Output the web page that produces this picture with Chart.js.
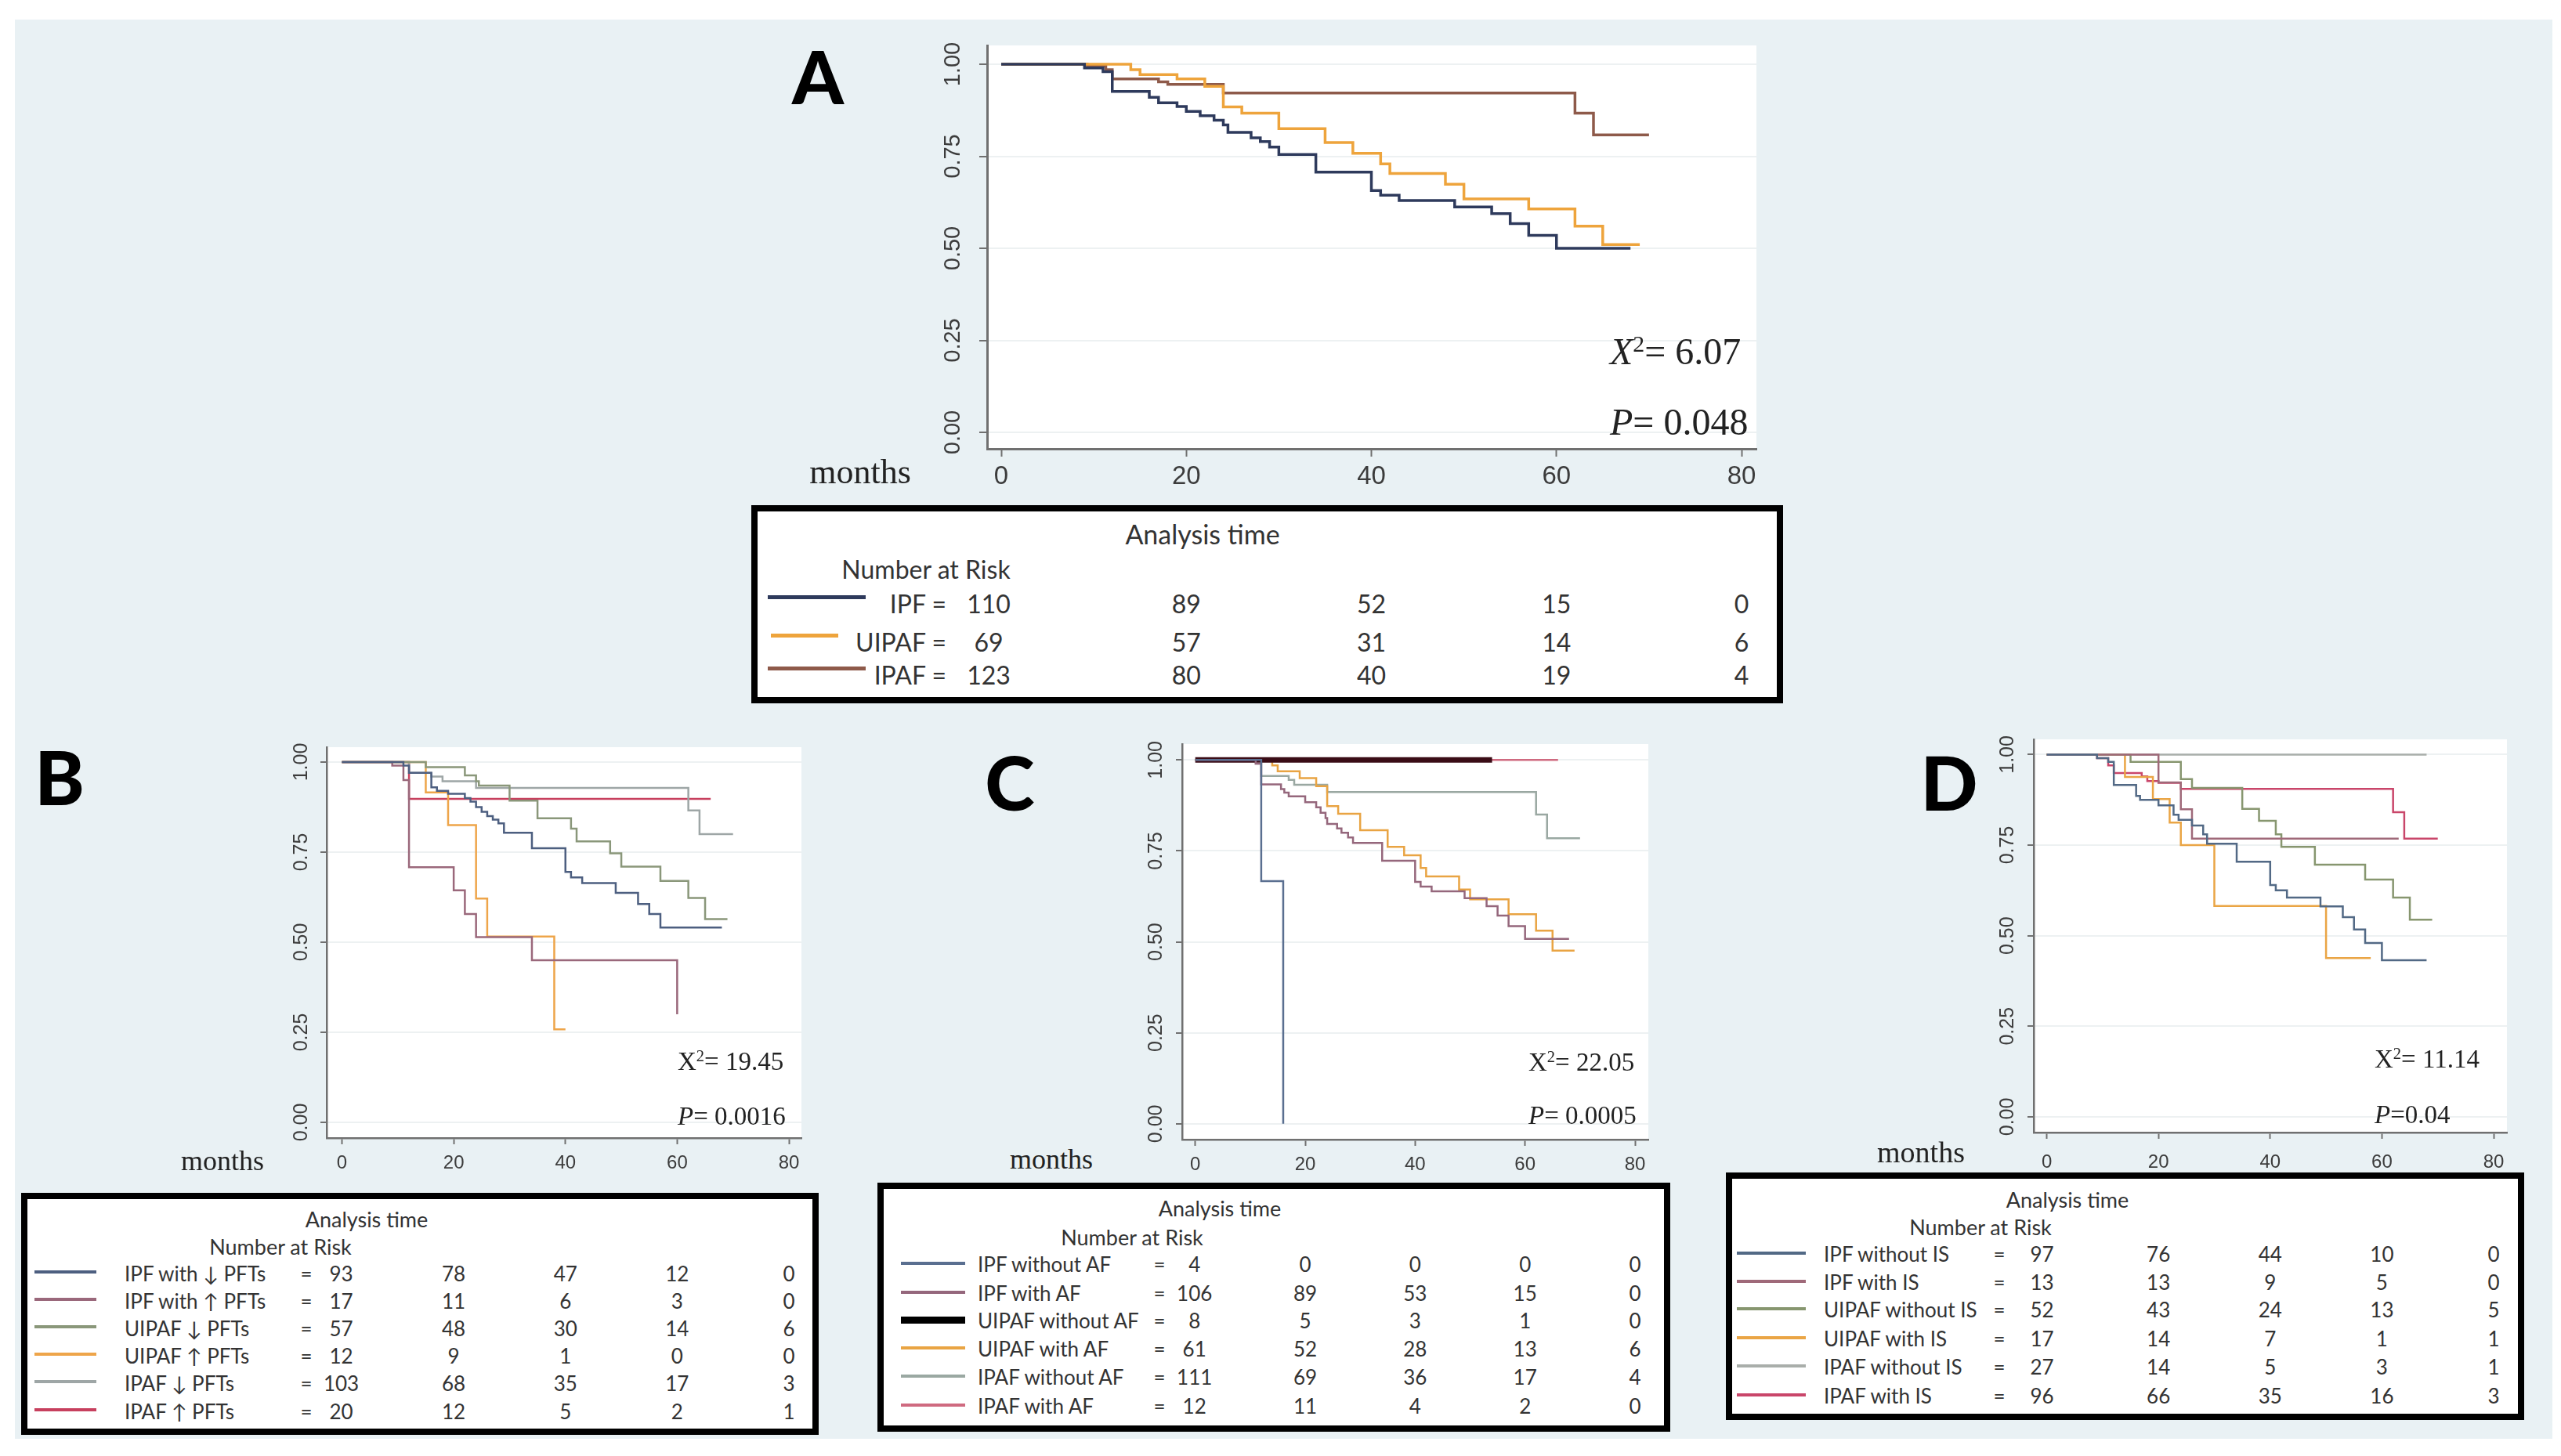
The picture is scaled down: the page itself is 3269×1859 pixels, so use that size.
<!DOCTYPE html>
<html>
<head>
<meta charset="utf-8">
<script src="https://cdn.jsdelivr.net/npm/chart.js@4.4.1/dist/chart.umd.min.js"></script>
<style>
  html, body { margin: 0; padding: 0; background: #fff; }
  body { width: 3269px; height: 1859px; position: relative; overflow: hidden; }
  #bg { position: absolute; left: 19px; top: 25px; width: 3239px; height: 1812px; background: #e9f1f4; }
  canvas { position: absolute; }
  .t { position: absolute; line-height: 1; white-space: nowrap; }
  .letter { font-family: Lato, sans-serif; font-weight: 900; color: #000; }
  .months { font-family: 'Liberation Serif', 'Times New Roman', serif; color: #222; }
  .stat { font-family: 'Liberation Serif', 'Times New Roman', serif; color: #222; }
  .stat sup { font-size: 0.62em; vertical-align: 0.55em; line-height: 0; }
  .rt { font-family: Lato, sans-serif; color: #333; }
  .risk { position: absolute; box-sizing: border-box; border: 8px solid #000; background: #fff; }
  .leg { position: absolute; }
</style>
</head>
<body>
<div id="bg"></div>
<script>
// ---------- shared axes ----------
const xTicks = [0, 20, 40, 60, 80];
const yTicks = [0, 0.25, 0.5, 0.75, 1];
const yTickLabels = ['0.00', '0.25', '0.50', '0.75', '1.00'];
const riskTimes = [0, 20, 40, 60, 80];

// ---------- panel A ----------
const namesA = ['IPF', 'UIPAF', 'IPAF'];
const ipfA = [[0,1],[9,0.99],[11,0.98],[12,0.926],[16,0.91],[17,0.895],[19,0.885],[20,0.872],[21.5,0.86],[23,0.848],[24,0.835],[24.5,0.815],[27,0.80],[28,0.79],[29,0.775],[30,0.755],[34,0.707],[40,0.657],[41,0.644],[43,0.63],[49,0.612],[53,0.594],[55,0.567],[57,0.535],[60,0.50],[68,0.50]];
const uipafA = [[0,1],[14,0.985],[15,0.972],[19,0.96],[22,0.94],[24,0.884],[26,0.867],[30,0.825],[35,0.787],[38,0.758],[41,0.729],[42,0.703],[48,0.674],[50,0.634],[57,0.607],[62,0.56],[65,0.51],[69,0.51]];
const ipafA = [[0,1],[9.3,0.995],[11.3,0.985],[12,0.96],[17,0.952],[18,0.945],[24,0.922],[62,0.867],[64,0.808],[70,0.808]];
const riskA = [[110,89,52,15,0],[69,57,31,14,6],[123,80,40,19,4]];
const statsA = ['6.07', '0.048'];

// ---------- panel B ----------
const namesB = ['IPF with \u2193 PFTs', 'IPF with \u2191 PFTs', 'UIPAF \u2193 PFTs', 'UIPAF \u2191 PFTs', 'IPAF \u2193 PFTs', 'IPAF \u2191 PFTs'];
const ipfDownB = [[0,1],[11,0.99],[12,0.97],[16,0.93],[17,0.92],[19,0.912],[22,0.90],[23,0.89],[24,0.875],[25,0.862],[26,0.85],[27,0.84],[28,0.83],[29,0.804],[34,0.761],[40,0.695],[41,0.68],[43,0.664],[49,0.637],[53,0.606],[55,0.578],[57,0.541],[68,0.541]];
const ipfUpB = [[0,1],[9,0.99],[11,0.95],[12,0.708],[20,0.644],[22,0.578],[24,0.514],[34,0.45],[60,0.30]];
const uipafDownB = [[0,1],[15,0.986],[22,0.963],[24,0.947],[24.5,0.935],[30,0.893],[35,0.844],[41,0.815],[42,0.78],[48,0.747],[50,0.71],[57,0.67],[62,0.623],[65,0.564],[69,0.564]];
const uipafUpB = [[0,1],[15,0.916],[19,0.825],[24,0.621],[26,0.516],[38,0.258],[40,0.258]];
const ipafDownB = [[0,1],[12,0.97],[16,0.96],[18,0.947],[24,0.928],[62,0.866],[64,0.80],[70,0.80]];
const ipafUpB = [[0,1],[12,0.898],[66,0.898]];
const riskB = [[93,78,47,12,0],[17,11,6,3,0],[57,48,30,14,6],[12,9,1,0,0],[103,68,35,17,3],[20,12,5,2,1]];
const statsB = ['19.45', '0.0016'];

// ---------- panel C ----------
const namesC = ['IPF without AF', 'IPF with AF', 'UIPAF without AF', 'UIPAF with AF', 'IPAF without AF', 'IPAF with AF'];
const ipfNoAfC = [[0,1],[12,0.667],[16,0]];
const ipfAfC = [[0,1],[11,0.99],[12,0.933],[15.6,0.92],[16.2,0.91],[17,0.90],[20,0.884],[22,0.87],[22.8,0.855],[23.7,0.84],[24,0.824],[25.8,0.812],[26.6,0.80],[27.8,0.787],[28.7,0.772],[34,0.723],[40,0.665],[41,0.652],[43,0.639],[49,0.62],[53,0.598],[55,0.572],[57,0.543],[60,0.508],[68,0.508]];
const uipafNoAfC = [[0,1],[54,1]];
const uipafAfC = [[0,1],[14,0.985],[15,0.969],[19,0.95],[22,0.928],[24,0.873],[26,0.852],[30,0.807],[35,0.761],[38,0.738],[41,0.703],[42,0.68],[48,0.644],[50,0.617],[57,0.576],[62,0.531],[65,0.476],[69,0.476]];
const ipafNoAfC = [[0,1],[11,0.99],[12,0.956],[17,0.945],[18,0.932],[24,0.912],[62,0.85],[64,0.785],[70,0.785]];
const ipafAfC = [[0,1],[66,1]];
const riskC = [[4,0,0,0,0],[106,89,53,15,0],[8,5,3,1,0],[61,52,28,13,6],[111,69,36,17,4],[12,11,4,2,0]];
const statsC = ['22.05', '0.0005'];

// ---------- panel D ----------
const namesD = ['IPF without IS', 'IPF with IS', 'UIPAF without IS', 'UIPAF with IS', 'IPAF without IS', 'IPAF with IS'];
const ipfNoIsD = [[0,1],[9,0.99],[11,0.98],[12,0.916],[16,0.886],[16.7,0.875],[20,0.86],[22.7,0.834],[23.6,0.82],[26,0.804],[28,0.78],[28.7,0.754],[34,0.704],[40,0.64],[41,0.625],[43,0.605],[49,0.581],[53,0.551],[55,0.517],[57,0.48],[60,0.432],[68,0.432]];
const ipfIsD = [[0,1],[20,0.923],[24,0.849],[26,0.768],[63,0.768]];
const uipafNoIsD = [[0,1],[15,0.98],[24,0.932],[26,0.908],[35,0.85],[38,0.817],[41,0.78],[42,0.745],[48,0.696],[57,0.655],[62,0.605],[65,0.544],[69,0.544]];
const uipafIsD = [[0,1],[14,0.938],[19,0.877],[22,0.812],[24,0.75],[30,0.582],[50,0.438],[58,0.438]];
const ipafNoIsD = [[0,1],[68,1]];
const ipafIsD = [[0,1],[9,0.99],[11,0.97],[12,0.949],[17,0.94],[18,0.927],[20,0.922],[24,0.905],[62,0.841],[64,0.768],[70,0.768]];
const riskD = [[97,76,44,10,0],[13,13,9,5,0],[52,43,24,13,5],[17,14,7,1,1],[27,14,5,3,1],[96,66,35,16,3]];
const statsD = ['11.14', '0.04'];

// ---------- layout / style ----------
const axisColor = '#707070';
const panels = [
  { id: 'A', series: [ipfA, uipafA, ipafA], names: namesA, risk: riskA, stats: statsA,
    colors: ['#2e3a5c', '#eea43c', '#8e5a4a'], widths: [3.5, 3.5, 3.5],
    frame: { L: 1260, T: 58, R: 2242, B: 573 }, px0: 1278, px80: 2223, py1: 82, py0: 552,
    axisW: 3, tick: 10, yFont: 29, yOff: 43, xFont: 33, xOff: 36,
    letter: { x: 1044, y: 100, fs: 94 }, months: { x: 1098, y: 603, fs: 44 },
    stat: { x: 2055, y1: 449, y2: 539, fs: 48, italicX: true, gap: ' ' },
    box: { l: 959, t: 645, r: 2276, b: 898 }, head: { x: 1535, y: 683, fs: 34 }, nar: { x: 1182, y: 728, fs: 32 },
    rows: [772, 821, 863], rowFs: 32, legX: [[980, 1105], [984, 1070], [980, 1105]], legDy: -10, legW: [5, 5, 5],
    labelRight: 1208, firstOff: -16 },
  { id: 'B', series: [ipfDownB, ipfUpB, uipafDownB, uipafUpB, ipafDownB, ipafUpB], names: namesB, risk: riskB, stats: statsB,
    colors: ['#4d5f80', '#9a687b', '#8a977a', '#eea54a', '#9ea6a6', '#c7405e'], widths: [2.5, 2.5, 2.5, 2.5, 2.5, 2.5],
    frame: { L: 417, T: 954, R: 1023, B: 1453 }, px0: 436.5, px80: 1007, py1: 973, py0: 1433,
    axisW: 2.5, tick: 8, yFont: 25, yOff: 32, xFont: 24, xOff: 32,
    letter: { x: 76, y: 994, fs: 96 }, months: { x: 284, y: 1482, fs: 36 },
    stat: { x: 865, y1: 1355, y2: 1425, fs: 33, italicX: false, gap: ' ' },
    box: { l: 27, t: 1523, r: 1045, b: 1832 }, head: { x: 468, y: 1557, fs: 27 }, nar: { x: 358, y: 1592, fs: 27 },
    rows: [1627, 1662, 1697, 1732, 1767, 1803], rowFs: 26, legX: [[44, 123]], legDy: -3, legW: [4, 4, 4, 4, 4, 4],
    labelLeft: 159, eqX: 391, firstOff: -1 },
  { id: 'C', series: [ipfNoAfC, ipfAfC, uipafNoAfC, uipafAfC, ipafNoAfC, ipafAfC], names: namesC, risk: riskC, stats: statsC,
    colors: ['#5a6f90', '#95677c', '#3a0c16', '#e9a443', '#9aa8a2', '#cf6a80'], widths: [2.5, 2.5, 7, 2.5, 2.5, 2.5],
    frame: { L: 1509, T: 950, R: 2104, B: 1455 }, px0: 1525.7, px80: 2087, py1: 970.3, py0: 1434.8,
    axisW: 2.5, tick: 8, yFont: 25, yOff: 33, xFont: 24, xOff: 32,
    letter: { x: 1289, y: 1001, fs: 96 }, months: { x: 1342, y: 1480, fs: 36 },
    stat: { x: 1951, y1: 1356, y2: 1424, fs: 33, italicX: false, gap: ' ' },
    box: { l: 1120, t: 1510, r: 2132, b: 1828 }, head: { x: 1557, y: 1543, fs: 27 }, nar: { x: 1445, y: 1580, fs: 27 },
    rows: [1615, 1652, 1687, 1723, 1759, 1796], rowFs: 26, legX: [[1150, 1232]], legDy: -2, legW: [4, 4, 9, 4, 4, 4],
    labelLeft: 1248, eqX: 1480, firstOff: -1 },
  { id: 'D', series: [ipfNoIsD, ipfIsD, uipafNoIsD, uipafIsD, ipafNoIsD, ipafIsD], names: namesD, risk: riskD, stats: statsD,
    colors: ['#526985', '#9f6979', '#87966f', '#eaa545', '#a9aeaa', '#c9466a'], widths: [2.5, 2.5, 2.5, 2.5, 2.5, 2.5],
    frame: { L: 2596, T: 944, R: 3200, B: 1446 }, px0: 2612.6, px80: 3183, py1: 963.4, py0: 1425.9,
    axisW: 2.5, tick: 8, yFont: 25, yOff: 33, xFont: 24, xOff: 38,
    letter: { x: 2488, y: 1001, fs: 96 }, months: { x: 2452, y: 1471, fs: 38 },
    stat: { x: 3031, y1: 1352, y2: 1423, fs: 33, italicX: false, gap: '' },
    box: { l: 2203, t: 1497, r: 3222, b: 1813 }, head: { x: 2639, y: 1532, fs: 27 }, nar: { x: 2528, y: 1567, fs: 27 },
    rows: [1602, 1638, 1673, 1710, 1746, 1783], rowFs: 26, legX: [[2217, 2305]], legDy: -2, legW: [4, 4, 4, 4, 4, 4],
    labelLeft: 2328, eqX: 2552, firstOff: -6 }
];

function addText(html, x, cy, fs, cls, align, k) {
  const d = document.createElement('div');
  d.className = 't ' + cls;
  d.style.fontSize = fs + 'px';
  d.innerHTML = html;
  d.style.top = (cy - fs * (k || 0.52)) + 'px';
  if (align === 'center') { d.style.left = x + 'px'; d.style.transform = 'translateX(-50%)'; }
  else if (align === 'right') { d.style.right = (3269 - x) + 'px'; }
  else d.style.left = x + 'px';
  document.body.appendChild(d);
  return d;
}

function kmPlugin(p) {
  return {
    id: 'km' + p.id,
    beforeDraw(chart) {
      const a = chart.chartArea, ctx = chart.ctx;
      ctx.save();
      ctx.fillStyle = '#fff';
      ctx.fillRect(a.left, a.top, a.right - a.left, a.bottom - a.top);
      ctx.restore();
    },
    afterDraw(chart) {
      const ctx = chart.ctx, a = chart.chartArea;
      const xs = chart.scales.x, ys = chart.scales.y;
      ctx.save();
      ctx.fillStyle = '#3c3c3c';
      ctx.textAlign = 'center';
      ctx.textBaseline = 'middle';
      ctx.font = p.yFont + "px 'Liberation Sans', Arial, sans-serif";
      yTicks.forEach((v, i) => {
        ctx.save();
        ctx.translate(a.left - p.yOff, ys.getPixelForValue(v));
        ctx.rotate(-Math.PI / 2);
        ctx.fillText(yTickLabels[i], 0, 0);
        ctx.restore();
      });
      ctx.font = p.xFont + "px 'Liberation Sans', Arial, sans-serif";
      xTicks.forEach(v => ctx.fillText(String(v), xs.getPixelForValue(v), a.bottom + p.xOff));
      ctx.restore();
    }
  };
}

function makePanel(p) {
  const ML = 100, MB = 80, MT = 6, MR = 6;
  const f = p.frame;
  const w = f.R - f.L + ML + MR, h = f.B - f.T + MT + MB;
  const cv = document.createElement('canvas');
  cv.width = w; cv.height = h;
  cv.style.left = (f.L - ML) + 'px';
  cv.style.top = (f.T - MT) + 'px';
  cv.style.width = w + 'px';
  cv.style.height = h + 'px';
  document.body.appendChild(cv);

  const kx = 80 / (p.px80 - p.px0), ky = 1 / (p.py0 - p.py1);
  const xmin = -(p.px0 - f.L) * kx, xmax = 80 + (f.R - p.px80) * kx;
  const ymax = 1 + (p.py1 - f.T) * ky, ymin = -(f.B - p.py0) * ky;

  const chart = new Chart(cv, {
    type: 'line',
    data: {
      datasets: p.series.map((s, i) => ({
        data: s.map(d => ({ x: d[0], y: d[1] })),
        borderColor: p.colors[i],
        borderWidth: p.widths[i],
        stepped: 'before',
        pointRadius: 0,
        fill: false,
        borderCapStyle: 'butt',
        borderJoinStyle: 'miter'
      }))
    },
    options: {
      responsive: false,
      animation: false,
      devicePixelRatio: 1,
      layout: { padding: { left: 0, top: MT, right: MR, bottom: 0 } },
      plugins: { legend: { display: false }, tooltip: { enabled: false } },
      scales: {
        x: {
          type: 'linear', min: xmin, max: xmax, bounds: 'data',
          afterBuildTicks: s => { s.ticks = xTicks.map(v => ({ value: v })); },
          afterFit: s => { s.height = MB; },
          ticks: { display: false },
          grid: { drawOnChartArea: false, tickColor: axisColor, tickLength: p.tick, tickWidth: 2 },
          border: { display: true, color: axisColor, width: p.axisW }
        },
        y: {
          type: 'linear', min: ymin, max: ymax, bounds: 'data',
          afterBuildTicks: s => { s.ticks = yTicks.map(v => ({ value: v })); },
          afterFit: s => { s.width = ML; },
          ticks: { display: false },
          grid: { color: '#edf1f2', lineWidth: 2, tickColor: axisColor, tickLength: p.tick, tickWidth: 2 },
          border: { display: true, color: axisColor, width: p.axisW }
        }
      }
    },
    plugins: [kmPlugin(p)]
  });

  // panel texts
  addText(p.id, p.letter.x, p.letter.y, p.letter.fs, 'letter', 'center', 0.53);
  addText('months', p.months.x, p.months.y, p.months.fs, 'months', 'center', 0.5);
  const xChar = p.stat.italicX ? '<i>X</i>' : 'X';
  addText(xChar + '<sup>2</sup>= ' + p.stats[0], p.stat.x, p.stat.y1, p.stat.fs, 'stat', 'left', 0.5);
  addText('<i>P</i>=' + p.stat.gap + p.stats[1], p.stat.x, p.stat.y2, p.stat.fs, 'stat', 'left', 0.5);

  // number-at-risk table
  const b = p.box;
  const box = document.createElement('div');
  box.className = 'risk';
  box.style.left = b.l + 'px'; box.style.top = b.t + 'px';
  box.style.width = (b.r - b.l) + 'px'; box.style.height = (b.b - b.t) + 'px';
  document.body.appendChild(box);
  addText('Analysis time', p.head.x, p.head.y, p.head.fs, 'rt', 'center');
  addText('Number at Risk', p.nar.x, p.nar.y, p.nar.fs, 'rt', 'center');

  const offX = f.L - ML;
  p.risk.forEach((row, r) => {
    const cy = p.rows[r];
    const lx = p.legX[r] || p.legX[0];
    const leg = document.createElement('div');
    leg.className = 'leg';
    const lw = p.legW[r];
    leg.style.left = lx[0] + 'px';
    leg.style.width = (lx[1] - lx[0]) + 'px';
    leg.style.top = (cy + p.legDy - lw / 2) + 'px';
    leg.style.height = lw + 'px';
    leg.style.background = p.colors[r] === '#3a0c16' ? '#000' : p.colors[r];
    document.body.appendChild(leg);

    if (p.labelRight) {
      addText(p.names[r] + ' =', p.labelRight, cy, p.rowFs, 'rt', 'right');
    } else {
      addText(p.names[r], p.labelLeft, cy, p.rowFs, 'rt', 'left');
      addText('=', p.eqX, cy, p.rowFs, 'rt', 'center');
    }
    row.forEach((n, c) => {
      const px = offX + chart.scales.x.getPixelForValue(riskTimes[c]) + (c === 0 ? p.firstOff : 0);
      addText(String(n), px, cy, p.rowFs, 'rt', 'center');
    });
  });
}

panels.forEach(makePanel);
</script>
</body>
</html>
